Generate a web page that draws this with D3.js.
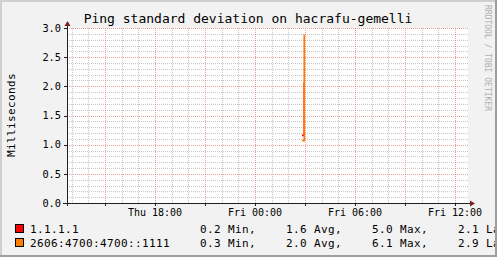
<!DOCTYPE html>
<html><head><meta charset="utf-8">
<script src="https://cdn.jsdelivr.net/npm/d3@7"></script>
<style>
html,body{margin:0;padding:0;background:#f2f2f2;}
svg{display:block;}
text{font-family:"DejaVu Sans Mono",monospace;}
</style></head>
<body>
<svg id="chart" width="497" height="257"></svg>
<script>
// ---- data ----
const title = "Ping standard deviation on hacrafu-gemelli";
const yLabel = "Milliseconds";
const watermark = "RRDTOOL / TOBI OETIKER";
const timeStart = "2023-03-02T12:43:00Z";
const timeEnd = "2023-03-03T12:43:00Z";
const yTicks = [0, 0.5, 1.0, 1.5, 2.0, 2.5, 3.0];
const xLabelTicks = ["2023-03-02T18:00:00Z", "2023-03-03T00:00:00Z", "2023-03-03T06:00:00Z", "2023-03-03T12:00:00Z"];
const sampleTimes = ["2023-03-03T02:49:00Z", "2023-03-03T02:57:00Z", "2023-03-03T02:59:00Z"];
const seriesNames = ["1.1.1.1", "2606:4700:4700::1111"];
const ipv4Values = [1.16, 2.05, 2.05];
const ipv6Values = [1.07, 2.88, 2.88];
const statLabels = ["Min,", "Avg,", "Max,", "Last"];
const ipv4Stats = [0.2, 1.6, 5.0, 2.1];
const ipv6Stats = [0.3, 2.0, 6.1, 2.9];

// ---- drawing ----
(function () {
const W = 497, H = 257;
const svg = d3.select("#chart");
const colors = ["#ff0000", "#ff8000"];
const pL = 67, pR = 468, pT = 28, pB = 203;

const x = d3.scaleUtc().domain([new Date(timeStart), new Date(timeEnd)]).range([pL, 467]);
const y = d3.scaleLinear().domain([0, 3]).range([pB, pT]);

svg.append("rect").attr("width", W).attr("height", H).attr("fill", "#f2f2f2");
svg.append("rect").attr("x", pL).attr("y", pT).attr("width", pR - pL).attr("height", pB - pT).attr("fill", "#fff");

// grid
const g = svg.append("g").attr("shape-rendering", "crispEdges");
const minorY = d3.range(0, 31).map(i => i / 10).filter(v => Math.round(v * 10) % 5 !== 0);
g.selectAll(".hmin").data(minorY).enter().append("line")
  .attr("x1", pL).attr("x2", pR).attr("y1", d => Math.round(y(d)) + 0.5).attr("y2", d => Math.round(y(d)) + 0.5)
  .attr("stroke", "rgba(143,143,143,0.5)").attr("stroke-dasharray", "1,1");
const minorX = x.ticks(d3.utcHour.every(1)).filter(d => d.getUTCHours() % 3 !== 0);
g.selectAll(".vmin").data(minorX).enter().append("line")
  .attr("y1", pT).attr("y2", pB).attr("x1", d => Math.round(x(d)) + 0.5).attr("x2", d => Math.round(x(d)) + 0.5)
  .attr("stroke", "rgba(143,143,143,0.5)").attr("stroke-dasharray", "1,1");
g.selectAll(".hmaj").data(yTicks.filter(v => v > 0)).enter().append("line")
  .attr("x1", pL).attr("x2", pR).attr("y1", d => Math.round(y(d)) + 0.5).attr("y2", d => Math.round(y(d)) + 0.5)
  .attr("stroke", "rgba(222,79,79,0.55)").attr("stroke-dasharray", "1,1");
const majorX = x.ticks(d3.utcHour.every(3));
g.selectAll(".vmaj").data(majorX).enter().append("line")
  .attr("y1", pT).attr("y2", pB).attr("x1", d => Math.round(x(d)) + 0.5).attr("x2", d => Math.round(x(d)) + 0.5)
  .attr("stroke", "rgba(222,79,79,0.55)").attr("stroke-dasharray", "1,1");

// series
const times = sampleTimes.map(t => new Date(t));
[ipv4Values, ipv6Values].forEach((vals, i) => {
  const line = d3.line().x((d, j) => x(times[j])).y(d => y(d)).curve(d3.curveStepAfter);
  svg.append("path").attr("d", line(vals)).attr("fill", "none")
    .attr("stroke", colors[i]).attr("stroke-width", 1.6);
});

// axes
const ax = svg.append("g").attr("shape-rendering", "crispEdges");
ax.append("line").attr("x1", 63).attr("x2", 471).attr("y1", pB + 0.5).attr("y2", pB + 0.5).attr("stroke", "#1f1f1f");
ax.append("line").attr("x1", pL + 0.5).attr("x2", pL + 0.5).attr("y1", 206).attr("y2", 24).attr("stroke", "#1f1f1f");
svg.append("path").attr("d", `M${pL + 0.5},21 L${pL - 2.5},26 L${pL + 3.5},26 Z`).attr("fill", "#801f1f");
svg.append("path").attr("d", `M475,${pB + 0.5} L470,${pB - 2.5} L470,${pB + 3.5} Z`).attr("fill", "#801f1f");
ax.selectAll(".yt").data(yTicks).enter().append("line")
  .attr("x1", pL - 3).attr("x2", pL).attr("y1", d => Math.round(y(d)) + 0.5).attr("y2", d => Math.round(y(d)) + 0.5)
  .attr("stroke", "#1f1f1f");
ax.selectAll(".xt").data(majorX).enter().append("line")
  .attr("y1", pB).attr("y2", pB + 3).attr("x1", d => Math.round(x(d)) + 0.5).attr("x2", d => Math.round(x(d)) + 0.5)
  .attr("stroke", "#1f1f1f");

svg.selectAll(".yl").data(yTicks).enter().append("text")
  .attr("x", 61).attr("y", d => y(d) + 3.8).attr("text-anchor", "end")
  .attr("font-size", "10.3px").attr("fill", "#000").text(d => d3.format(".1f")(d));

const fmt = d3.utcFormat("%a %H:%M");
svg.selectAll(".xl").data(xLabelTicks.map(t => new Date(t))).enter().append("text")
  .attr("x", d => x(d)).attr("y", 216).attr("text-anchor", "middle")
  .attr("font-size", "10px").attr("fill", "#000").text(d => fmt(d));

// title, labels
svg.append("text").attr("x", 248).attr("y", 23).attr("text-anchor", "middle")
  .attr("font-size", "13px").attr("fill", "#000").text(title);
svg.append("text").attr("transform", "translate(15,115) rotate(-90)").attr("text-anchor", "middle")
  .attr("font-size", "11px").attr("letter-spacing", "0.38px").attr("fill", "#000").text(yLabel);
svg.append("text").attr("transform", "translate(485,5) rotate(90)").attr("text-anchor", "start")
  .attr("font-size", "8px").attr("fill", "#b0b0b0").text(watermark);

// legend
const rows = [ipv4Stats, ipv6Stats];
const rowY = [233, 247];
const statX = [200, 286, 372, 458];
rows.forEach((stats, i) => {
  svg.append("rect").attr("x", 15.5).attr("y", rowY[i] - 8.5).attr("width", 8).attr("height", 8)
    .attr("fill", colors[i]).attr("stroke", "#000").attr("stroke-width", 1).attr("shape-rendering", "crispEdges");
  svg.append("text").attr("x", 30).attr("y", rowY[i]).attr("font-size", "11px").attr("letter-spacing", "0.38px")
    .attr("fill", "#000").text(seriesNames[i]);
  stats.forEach((v, j) => {
    svg.append("text").attr("x", statX[j]).attr("y", rowY[i]).attr("font-size", "11px").attr("letter-spacing", "0.38px")
      .attr("fill", "#000").text(d3.format(".1f")(v) + " " + statLabels[j]);
  });
});

// frame
svg.append("rect").attr("x", 0).attr("y", 0).attr("width", W).attr("height", 2).attr("fill", "#cfcfcf");
svg.append("rect").attr("x", 0).attr("y", 0).attr("width", 2).attr("height", H).attr("fill", "#cfcfcf");
svg.append("rect").attr("x", 0).attr("y", H - 2).attr("width", W).attr("height", 2).attr("fill", "#9e9e9e");
svg.append("rect").attr("x", W - 2).attr("y", 0).attr("width", 2).attr("height", H).attr("fill", "#9e9e9e");
})();
</script>
</body></html>
